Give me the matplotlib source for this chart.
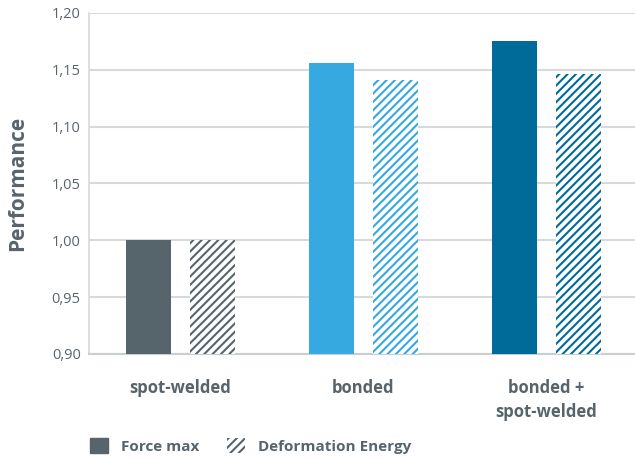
import numpy as np
import matplotlib
matplotlib.use("Agg")
import matplotlib.pyplot as plt
from matplotlib.patches import Patch

categories = ["spot-welded", "bonded", "bonded +\nspot-welded"]
force_max = [1.000, 1.156, 1.175]
deformation_energy = [1.000, 1.141, 1.146]
colors = ["#56646b", "#35a9e0", "#006a99"]
yticks = [0.90, 0.95, 1.00, 1.05, 1.10, 1.15, 1.20]

TEXT = "#58646c"
GRID = "#d6dadc"

plt.rcParams["font.family"] = ["Open Sans", "DejaVu Sans"]
plt.rcParams["hatch.linewidth"] = 1.5

fig = plt.figure(figsize=(6.35, 4.59), dpi=100)
ax = fig.add_axes([0.1402, 0.2288, 0.8598, 0.7429])

x = np.arange(len(categories))
w = 0.246
off = 0.174
for i in x:
    ax.bar(i - off, force_max[i], w, bottom=0, color=colors[i], zorder=3)
    ax.bar(i + off, deformation_energy[i], w, bottom=0, facecolor="white",
           edgecolor=colors[i], hatch="////", linewidth=0, zorder=3)

ax.set_ylim(0.90, 1.20)
ax.set_xlim(-0.5, 2.484)
ax.set_yticks(yticks)
ax.set_yticklabels([f"{v:.2f}".replace(".", ",") for v in yticks],
                   fontsize=10.5, color=TEXT)
ax.set_xticks(x)
ax.set_xticklabels(categories, fontsize=12, fontweight="bold", color=TEXT,
                   linespacing=1.4, va="top")
ax.tick_params(axis="both", length=0)
ax.tick_params(axis="x", pad=18)
ax.tick_params(axis="y", pad=6)
ax.yaxis.grid(True, color=GRID, linewidth=1.5, zorder=0)

for s in ["top", "right"]:
    ax.spines[s].set_visible(False)
ax.spines["left"].set_color(GRID)
ax.spines["left"].set_linewidth(1.2)
ax.spines["bottom"].set_color("#c9ced1")
ax.spines["bottom"].set_linewidth(1.5)

ax.set_ylabel("Performance", fontsize=15, fontweight="bold", color=TEXT,
              labelpad=17)

handles = [Patch(facecolor=colors[0], edgecolor=colors[0], label="Force max"),
           Patch(facecolor="white", edgecolor=colors[0], hatch="////",
                 linewidth=0, label="Deformation Energy")]
leg = fig.legend(handles=handles, loc="lower left", ncol=2, frameon=False,
                 bbox_to_anchor=(0.12, -0.018), handlelength=1.15,
                 handleheight=1.15, handletextpad=0.9, columnspacing=1.8,
                 prop={"family": ["Open Sans", "DejaVu Sans"],
                       "weight": "bold", "size": 11})
for t in leg.get_texts():
    t.set_color(TEXT)

fig.savefig("out.png", dpi=100)
